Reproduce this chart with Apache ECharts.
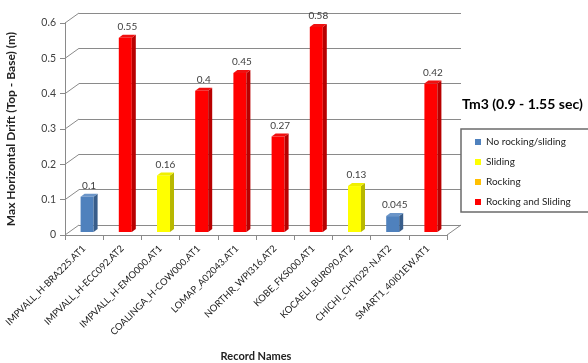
<!DOCTYPE html>
<html><head><meta charset="utf-8">
<script src="https://cdn.jsdelivr.net/npm/echarts@6/dist/echarts.min.js"></script>
<style>html,body{margin:0;padding:0;background:#fff}#c{width:588px;height:363px}</style>
</head><body><div id="c"></div>
<script>
const categories = ['IMPVALL_H-BRA225.AT1','IMPVALL_H-ECC092.AT2','IMPVALL_H-EMO000.AT1','COALINGA_H-COW000.AT1','LOMAP_A02043.AT1','NORTHR_WPI316.AT2','KOBE_FKS000.AT1','KOCAELI_BUR090.AT2','CHICHI_CHY029-N.AT2','SMART1_40I01EW.AT1'];
const values = [0.1, 0.55, 0.16, 0.4, 0.45, 0.27, 0.58, 0.13, 0.045, 0.42];
const classNames = ['No rocking/sliding','Sliding','Rocking','Rocking and Sliding'];
const recordClass = [0, 3, 1, 3, 3, 3, 3, 1, 0, 3];
const yTicks = [0, 0.1, 0.2, 0.3, 0.4, 0.5, 0.6];

const frontColors = ['#4F81BD','#FFFF00','#FFC000','#FF0000'];
const sideColors  = ['#385D8A','#B8B800','#C08A00','#B80000'];
const topColors   = ['#6B95C8','#F0F000','#FFCC33','#F01010'];
const FONT = 'Lato';
const WALL_DX = 14, WALL_DY = 10;
const BAR_W = 13, SHIFT_X = 3, SHIFT_Y = 3, BAR_DX = 4, BAR_DY = 3;
const GRAY = '#8a8a8a';

function barRender(k) {
  return function (params, api) {
    const i = api.value(0), v = api.value(1);
    const top = api.coord([i, v]), base = api.coord([i, 0]);
    const cx = top[0] + SHIFT_X;
    const x0 = cx - BAR_W / 2, x1 = cx + BAR_W / 2;
    const yb = base[1] - SHIFT_Y, yt = top[1] - SHIFT_Y;
    return {
      type: 'group',
      children: [
        {type: 'rect', shape: {x: x0, y: yt, width: BAR_W, height: yb - yt}, style: {fill: frontColors[k]}},
        {type: 'polygon', shape: {points: [[x1, yb], [x1 + BAR_DX, yb - BAR_DY], [x1 + BAR_DX, yt - BAR_DY], [x1, yt]]}, style: {fill: sideColors[k]}},
        {type: 'polygon', shape: {points: [[x0, yt], [x1, yt], [x1 + BAR_DX, yt - BAR_DY], [x0 + BAR_DX, yt - BAR_DY]]}, style: {fill: topColors[k]}},
        {type: 'text', x: cx + BAR_DX / 2, y: yt - BAR_DY - 3,
          style: {text: String(v), align: 'center', verticalAlign: 'bottom', fill: '#404040', font: '10px ' + FONT}}
      ]
    };
  };
}

const barSeries = classNames.map((name, k) => ({
  name: name,
  type: 'custom',
  xAxisIndex: 0, yAxisIndex: 0,
  itemStyle: {color: frontColors[k]},
  encode: {x: 0, y: 1},
  clip: false,
  z: 5,
  data: values.map((v, i) => recordClass[i] === k ? [i, v] : null).filter(d => d),
  renderItem: barRender(k)
}));

const wallSeries = {
  type: 'custom',
  xAxisIndex: 0, yAxisIndex: 0,
  silent: true, clip: false, z: 1,
  encode: {x: 0, y: 1},
  data: yTicks.map(v => [0, v]),
  renderItem: function (params, api) {
    const v = api.value(1);
    const half = api.size([1, 0])[0] / 2;
    const p = api.coord([0, v]);
    const children = [{type: 'line', shape: {x1: p[0] - half, y1: p[1], x2: p[0] - half + WALL_DX, y2: p[1] - WALL_DY}, style: {stroke: GRAY, lineWidth: 1}}];
    if (v === 0) {
      const q = api.coord([categories.length - 1, 0]);
      children.push({type: 'line', shape: {x1: q[0] + half, y1: q[1], x2: q[0] + half + WALL_DX, y2: q[1] - WALL_DY}, style: {stroke: GRAY, lineWidth: 1}});
    }
    return {type: 'group', children: children};
  }
};

const chart = echarts.init(document.getElementById('c'), null, {renderer: 'canvas'});
chart.setOption({
  animation: false,
  textStyle: {fontFamily: FONT},
  title: {
    text: 'Tm3 (0.9 - 1.55 sec)', left: 457, top: 92,
    textStyle: {fontFamily: FONT, fontSize: 14, fontWeight: 'bold', color: '#000'}
  },
  legend: {
    data: classNames, orient: 'vertical', left: 461, top: 129,
    icon: 'rect', itemWidth: 6, itemHeight: 6, itemGap: 8,
    padding: [7, 18, 4, 14],
    borderColor: '#6b6b6b', borderWidth: 1.5,
    textStyle: {fontFamily: FONT, fontSize: 10, color: '#222', lineHeight: 12}
  },
  grid: [
    {left: 65, right: 141, top: 23, bottom: 128, outerBoundsMode: 'none', containLabel: false},
    {left: 79, right: 127, top: 13, bottom: 138, outerBoundsMode: 'none', containLabel: false}
  ],
  xAxis: [
    {type: 'category', gridIndex: 0, data: categories,
      name: 'Record Names', nameLocation: 'middle', nameGap: 116,
      nameTextStyle: {fontFamily: FONT, fontSize: 11, fontWeight: 'bold', color: '#222'},
      axisLine: {lineStyle: {color: GRAY}},
      axisTick: {show: true, interval: 0, alignWithLabel: false, length: 5, lineStyle: {color: GRAY}},
      axisLabel: {rotate: 45, interval: 0, margin: 12, fontFamily: FONT, fontSize: 9.5, color: '#222'}},
    {type: 'category', gridIndex: 1, data: categories, show: false}
  ],
  yAxis: [
    {type: 'value', gridIndex: 0, min: 0, max: 0.6, interval: 0.1,
      name: 'Max Horizontal Drift (Top - Base) (m)', nameLocation: 'middle', nameGap: 48,
      nameTextStyle: {fontFamily: FONT, fontSize: 12, fontWeight: 'bold', color: '#222'},
      axisLine: {show: true, lineStyle: {color: GRAY}},
      axisTick: {show: true, length: 5, lineStyle: {color: GRAY}},
      splitLine: {show: false},
      axisLabel: {margin: 9, fontFamily: FONT, fontSize: 10.5, color: '#404040'}},
    {type: 'value', gridIndex: 1, min: 0, max: 0.6, interval: 0.1,
      axisLine: {show: false}, axisTick: {show: false}, axisLabel: {show: false},
      splitLine: {show: true, lineStyle: {color: GRAY, width: 1}}}
  ],
  series: [wallSeries].concat(barSeries)
});
</script>
</body></html>
